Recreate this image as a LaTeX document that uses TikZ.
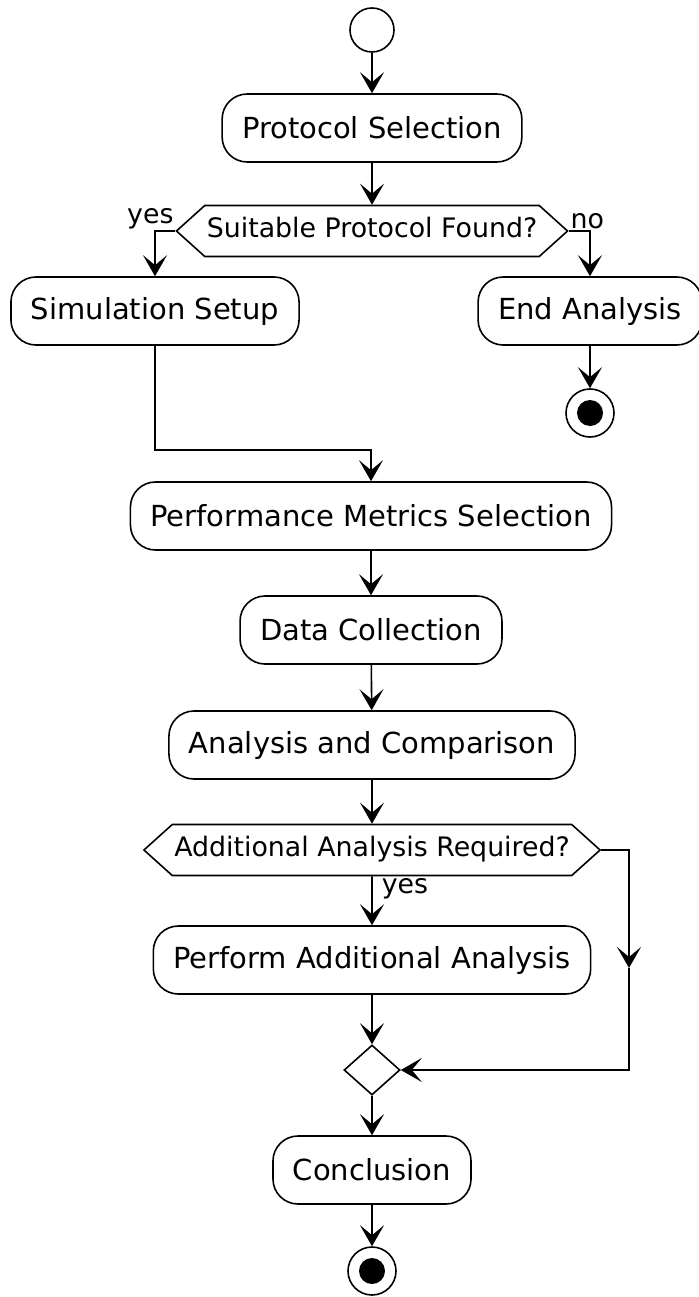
\documentclass[tikz,border=0pt]{standalone}
\usepackage{fontspec}
\setmainfont{DejaVu Sans}
\usetikzlibrary{arrows.meta,shapes.geometric,shapes.symbols}
\tikzset{every path/.style={black,line width=1.6pt},
  act/.style={draw,rounded corners=25pt,minimum height=68pt,inner xsep=20pt,
    font=\fontsize{29}{35}\selectfont},
  decide/.style={draw,shape=signal,signal to=west and east,signal pointer angle=84,
    inner xsep=2pt,inner ysep=13pt,text height=19pt,text depth=6pt,
    font=\fontsize{26.8}{31}\selectfont},
  merge/.style={draw,diamond,minimum width=56pt,minimum height=50pt,inner sep=0pt},
  startnode/.style={draw,circle,minimum size=44pt,inner sep=0pt},
  endnode/.style={draw,circle,minimum size=48pt,inner sep=0pt,
    path picture={\fill (path picture bounding box.center) circle (13pt);}},
  lbl/.style={font=\fontsize{26.8}{31}\selectfont,inner sep=1pt},
  >={Stealth[length=21pt,width=24pt,inset=10pt]}}

\begin{document}
\begin{tikzpicture}[x=1pt,y=-1pt]
  \useasboundingbox (0,0) rectangle (698,1297);
  \node[startnode] (start) at (372,30) {};
  \node[act] (prot) at (372,128) {Protocol Selection};
  \node[decide] (found) at (372,231) {Suitable Protocol Found?};
  \node[act] (sim) at (155,311) {Simulation Setup};
  \node[act] (endan) at (590,311) {End Analysis};
  \node[endnode] (stop1) at (590,413) {};
  \node[act] (perf) at (371,516) {Performance Metrics Selection};
  \node[act] (data) at (371,630) {Data Collection};
  \node[act] (comp) at (372,745) {Analysis and Comparison};
  \node[decide] (more) at (372,850) {Additional Analysis Required?};
  \node[act] (extra) at (372,960) {Perform Additional Analysis};
  \node[merge] (join) at (372,1070) {};
  \node[act] (concl) at (372,1170) {Conclusion};
  \node[endnode] (stop2) at (372,1271) {};

  \node[lbl,above left] (yes1) at (found.west) {yes};
  \node[lbl,above right] (no1) at (found.east) {no};
  \node[lbl,below right,xshift=8pt] (yes2) at (more.south) {yes};

  \coordinate (j1) at ([yshift=31pt]perf.north);
  \coordinate (j2) at (629,968);

  \draw[->] (start) -- (prot);
  \draw[->] (prot) -- (found);
  \draw[->] (found.west) -| (sim.north);
  \draw[->] (found.east) -| (endan.north);
  \draw[->] (endan) -- (stop1);
  \draw[->] (sim.south) |- (j1) -- (perf.north);
  \draw[->] (perf) -- (data);
  \draw[->] (data) -- (comp);
  \draw[->] (comp) -- (more);
  \draw[->] (more) -- (extra);
  \draw[->] (more.east) -| (j2);
  \draw[->] (j2) |- (join.east);
  \draw[->] (extra) -- (join);
  \draw[->] (join) -- (concl);
  \draw[->] (concl) -- (stop2);
\end{tikzpicture}
\end{document}
